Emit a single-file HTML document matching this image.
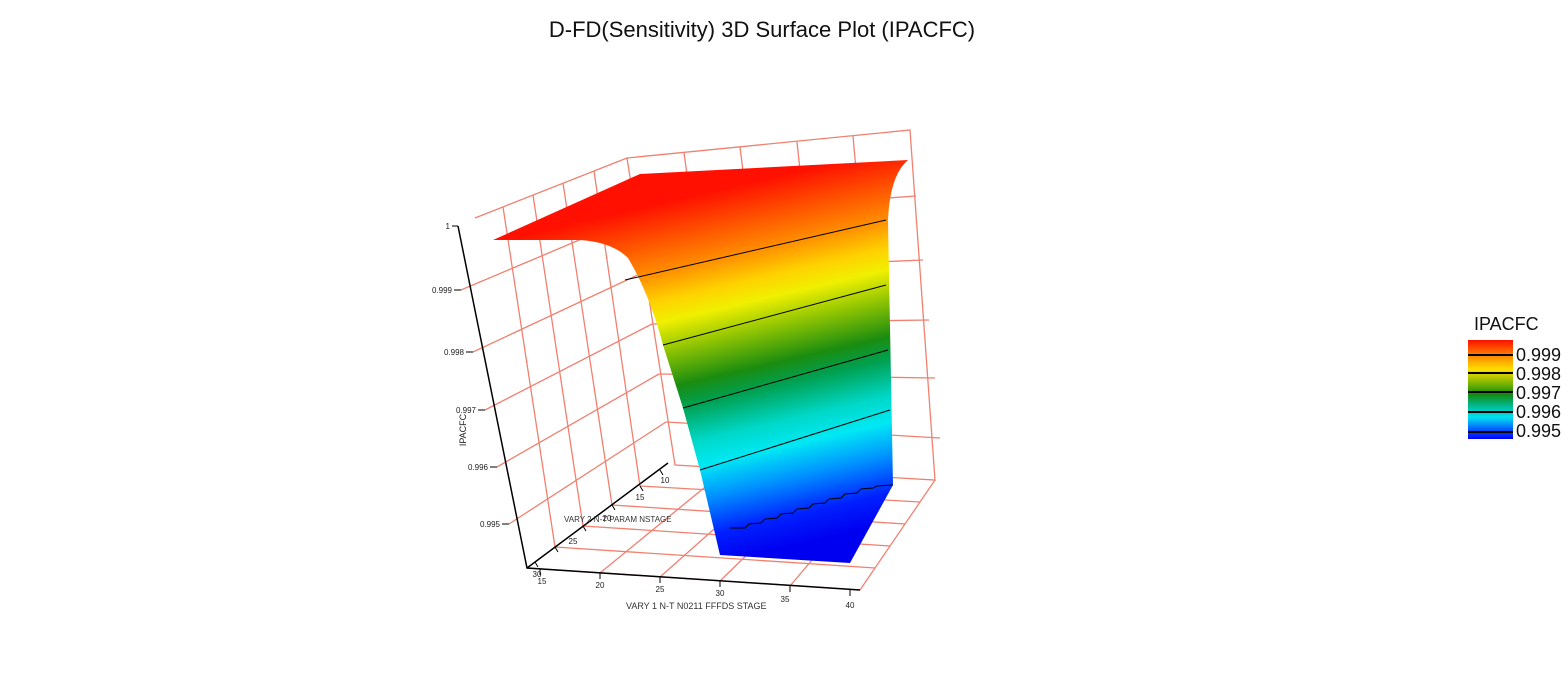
<!DOCTYPE html>
<html><head><meta charset="utf-8"><style>
body{margin:0;background:#fff;width:1568px;height:687px;overflow:hidden;font-family:"Liberation Sans",sans-serif}
</style></head><body>
<svg width="1568" height="687" viewBox="0 0 1568 687" xmlns="http://www.w3.org/2000/svg">
<defs>
<linearGradient id="g" gradientUnits="userSpaceOnUse" x1="78" y1="338" x2="160" y2="692">
<stop offset="0" stop-color="#ff1000"/>
<stop offset="0.18" stop-color="#ff8a00"/>
<stop offset="0.26" stop-color="#ffd000"/>
<stop offset="0.32" stop-color="#f0f000"/>
<stop offset="0.38" stop-color="#a8d000"/>
<stop offset="0.50" stop-color="#1a8c10"/>
<stop offset="0.56" stop-color="#00a050"/>
<stop offset="0.66" stop-color="#00d8c8"/>
<stop offset="0.73" stop-color="#00e8f4"/>
<stop offset="0.82" stop-color="#0090ff"/>
<stop offset="0.92" stop-color="#0020ff"/>
<stop offset="1" stop-color="#0000f0"/>
</linearGradient>
<linearGradient id="lg" x1="0" y1="0" x2="0" y2="1">
<stop offset="0" stop-color="#ff1000"/><stop offset="0.15" stop-color="#ff8000"/>
<stop offset="0.3" stop-color="#ffe000"/><stop offset="0.45" stop-color="#70b000"/>
<stop offset="0.55" stop-color="#108a10"/><stop offset="0.68" stop-color="#00c0a0"/>
<stop offset="0.78" stop-color="#00e0f0"/><stop offset="0.9" stop-color="#0060ff"/>
<stop offset="1" stop-color="#0000ff"/>
</linearGradient>
</defs>
<text x="762" y="37" font-size="22" text-anchor="middle" fill="#111">D-FD(Sensitivity) 3D Surface Plot (IPACFC)</text>
<g stroke="#f08070" stroke-width="1.3" fill="none">
<path d="M627,158 L910,130 L935,480 L675,465 Z"/>
<path d="M636,216 L916,196 M644,272 L923,260 M652,324 L929,320 M659,374 L935,378 M666,422 L940,438"/>
<path d="M684,153 L727,462 M740,147 L780,468 M797,142 L832,471 M853,136 L883,475"/>
<path d="M475,218 L627,158 M461,290 L636,216 M473,352 L644,272 M485,410 L652,324 M497,467 L659,374 M509,524 L666,422"/>
<path d="M503,207 L555,547 M533,195 L583,526 M563,183 L612,505 M594,171 L640,486"/>
<path d="M527,568 L860,590 L935,480"/>
<path d="M600,573 L732,465 M660,577 L783,468 M720,581 L833,471 M790,586 L884,475"/>
<path d="M555,547 L875,568 M583,526 L890,546 M612,505 L905,524 M640,486 L920,502"/>
</g>
<path d="M493,240 L640,174 L908,160 Q890,175 888,220 L893,485 L850,563 L720,555 L700,470 L683,408 L663,345 Q650,295 628,258 Q612,242 580,240 Z" fill="url(#g)"/>
<g stroke="#000" stroke-width="1" fill="none">
<path d="M625,280 L886,220"/>
<path d="M663,345 L886,285"/>
<path d="M683,408 L888,350"/>
<path d="M700,470 L890,410"/>
<path d="M730,528 L745,528 L749,524 L761,523 L765,519 L777,518 L781,514 L793,513 L797,509 L809,508 L813,504 L825,503 L829,499 L841,498 L845,494 L857,493 L861,489 L873,488 L877,486 L893,485"/>
</g>
<g stroke="#000" stroke-width="1.5" fill="none">
<path d="M458,226 L527,568 L860,590"/>
<path d="M527,568 L668,463"/>
</g>
<g stroke="#000" stroke-width="1" fill="none">
<path d="M452,226 L458,226 M454,290 L461,290 M466,352 L473,352 M478,410 L485,410 M490,467 L497,467 M502,524 L509,524"/>
<path d="M540,569 L540,575 M600,573 L600,579 M660,577 L660,583 M720,581 L720,587 M790,586 L790,592 M850,590 L850,596"/>
<path d="M535,562 L538,567 M555,547 L558,552 M583,526 L586,531 M612,505 L615,510 M640,486 L643,491 M660,470 L663,475"/>
</g>
<g font-size="8" fill="#222" text-anchor="end">
<text x="450" y="229">1</text><text x="452" y="293">0.999</text><text x="464" y="355">0.998</text>
<text x="476" y="413">0.997</text><text x="488" y="470">0.996</text><text x="500" y="527">0.995</text>
</g>
<g font-size="8" fill="#222" text-anchor="middle">
<text x="542" y="584">15</text><text x="600" y="588">20</text><text x="660" y="592">25</text>
<text x="720" y="596">30</text><text x="785" y="602">35</text><text x="850" y="608">40</text>
<text x="537" y="577">30</text><text x="573" y="544">25</text><text x="607" y="521">20</text><text x="640" y="500">15</text><text x="665" y="483">10</text>
</g>
<text x="466" y="430" font-size="9" fill="#222" transform="rotate(-90 466 430)" text-anchor="middle">IPACFC</text>
<text x="564" y="522" font-size="8" fill="#333">VARY 2 N-T PARAM NSTAGE</text>
<text x="626" y="609" font-size="9" fill="#333">VARY 1 N-T N0211 FFFDS STAGE</text>
<text x="1474" y="330" font-size="18" fill="#111">IPACFC</text>
<rect x="1468" y="340" width="45" height="99" fill="url(#lg)"/>
<g stroke="#000" stroke-width="2">
<path d="M1468,355 L1513,355 M1468,373 L1513,373 M1468,392 L1513,392 M1468,412 L1513,412 M1468,432 L1513,432"/>
</g>
<g font-size="18" fill="#111">
<text x="1516" y="361">0.999</text><text x="1516" y="380">0.998</text><text x="1516" y="399">0.997</text>
<text x="1516" y="418">0.996</text><text x="1516" y="437">0.995</text>
</g>
</svg>
</body></html>
